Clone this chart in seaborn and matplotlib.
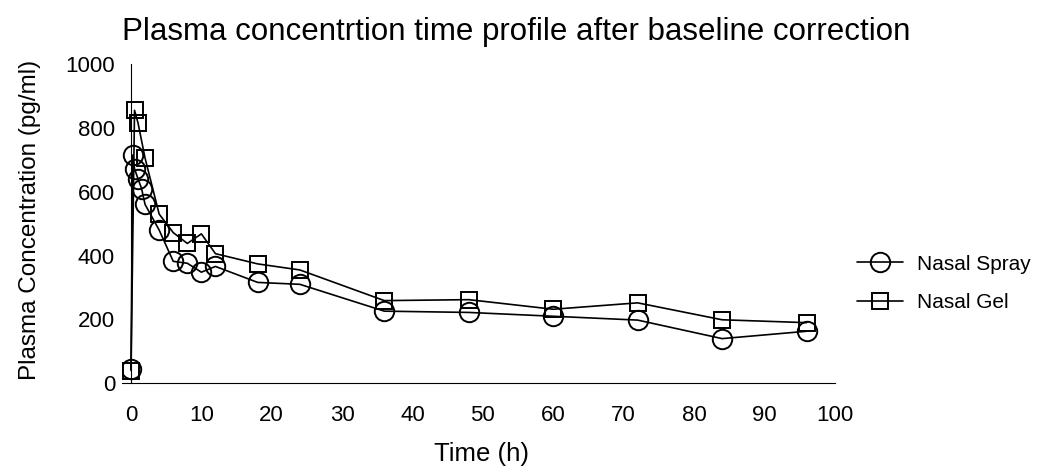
import matplotlib
matplotlib.use("Agg")
import matplotlib.pyplot as plt
import seaborn as sns
import pandas as pd

# ---- data ----
spray_time = [0, 0.25, 0.5, 1, 1.5, 2, 4, 6, 8, 10, 12, 18, 24, 36, 48, 60, 72, 84, 96]
spray_conc = [44, 715, 672, 640, 610, 560, 480, 382, 376, 348, 366, 316, 310, 226, 222, 210, 198, 140, 163]
gel_time = [0, 0.5, 1, 2, 4, 6, 8, 10, 12, 18, 24, 36, 48, 60, 72, 84, 96]
gel_conc = [40, 855, 815, 705, 530, 472, 438, 468, 406, 374, 355, 259, 262, 232, 252, 199, 190]
series_names = ["Nasal Spray", "Nasal Gel"]
x_ticks = [0, 10, 20, 30, 40, 50, 60, 70, 80, 90, 100]
y_ticks = [0, 200, 400, 600, 800, 1000]

df = pd.concat([
    pd.DataFrame({"Time": spray_time, "Conc": spray_conc, "Formulation": series_names[0]}),
    pd.DataFrame({"Time": gel_time, "Conc": gel_conc, "Formulation": series_names[1]}),
], ignore_index=True)

sns.set_style("white")
plt.rcParams["font.family"] = ["Liberation Sans", "DejaVu Sans"]
plt.rcParams["text.color"] = "black"
plt.rcParams["axes.labelcolor"] = "black"
plt.rcParams["xtick.color"] = "black"
plt.rcParams["ytick.color"] = "black"

fig = plt.figure(figsize=(10.46, 4.75), dpi=100)
ax = fig.add_axes([0.1165, 0.193, 0.6815, 0.6723])

sns.lineplot(data=df, x="Time", y="Conc", style="Formulation",
             style_order=series_names,
             markers={"Nasal Spray": "o", "Nasal Gel": "s"}, dashes=False,
             color="black", sort=False, legend=False, ax=ax,
             markerfacecolor="none", markeredgecolor="black",
             markeredgewidth=1.4, markersize=12, linewidth=1.2)

lines = ax.get_lines()
lines[0].set_markersize(14)
lines[1].set_markersize(11.5)

ax.set_xlim(-1.3, 100)
ax.set_ylim(0, 1000)
ax.set_xticks(x_ticks)
ax.set_yticks(y_ticks)
ax.spines["left"].set_position(("data", 0))
for s in ["top", "right"]:
    ax.spines[s].set_visible(False)
for s in ["left", "bottom"]:
    ax.spines[s].set_linewidth(0.8)
    ax.spines[s].set_color("black")
ax.tick_params(axis="both", direction="inout", length=7, width=0.8,
               colors="black", labelsize=16)
ax.tick_params(axis="x", pad=12)
ax.tick_params(axis="y", pad=8)
ax.set_xlabel("")
ax.set_ylabel("")

fig.text(516 / 1046, 1 - 40 / 475, "Plasma concentrtion time profile after baseline correction",
         ha="center", va="baseline", fontsize=22.5)
fig.text(30 / 1046, 1 - 220 / 475, "Plasma Concentration (pg/ml)", rotation=90,
         ha="center", va="center", fontsize=17.5)
fig.text(482 / 1046, 1 - 461 / 475, "Time (h)", ha="center", va="baseline", fontsize=18.5)

fig.legend(lines, series_names, loc="center left", bbox_to_anchor=(0.819, 0.403),
           frameon=False, fontsize=15, handlelength=2.2, labelspacing=0.95,
           borderaxespad=0, borderpad=0, handletextpad=0.7)

fig.savefig("out.png", dpi=100)
